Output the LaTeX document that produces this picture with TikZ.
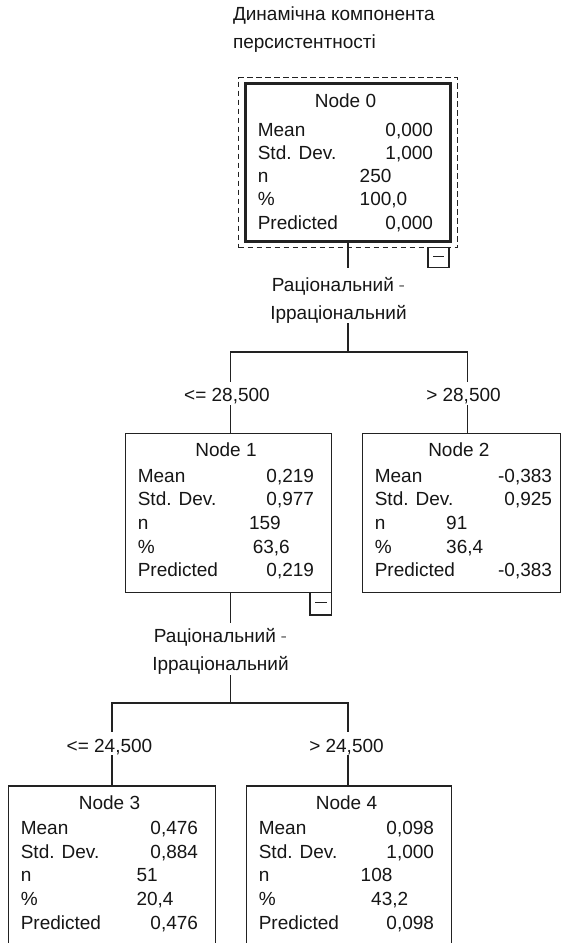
\documentclass[tikz,border=0pt]{standalone}
\usepackage{fontspec}
\setmainfont{Liberation Sans}
\usetikzlibrary{calc}
\definecolor{ink}{HTML}{161616}
\definecolor{edge}{HTML}{222222}
\definecolor{dashgray}{HTML}{707070}
\tikzset{
  txt/.style={inner sep=0pt, outer sep=0pt, text=ink, font=\fontsize{19}{22}\selectfont},
  box/.style={draw=edge, line width=1.3pt, outer sep=0pt, inner sep=0pt},
  thickbox/.style={box, line width=3pt},
  focusbox/.style={draw=edge, line width=1.2pt, dash pattern=on 5.5pt off 3.5pt, outer sep=0pt, inner sep=0pt},
  minusbox/.style={draw=edge, line width=1.3pt, outer sep=0pt, inner sep=0pt, fill=white,
    path picture={\draw[edge, line width=1.2pt] ([xshift=5pt,yshift=1pt]path picture bounding box.west) -- ([xshift=-5pt,yshift=1pt]path picture bounding box.east);}},
  conn/.style={draw=edge, line width=1.3pt},
  cutlabel/.style={txt, fill=white, text height=19.7pt, text depth=3.3pt, anchor=base},
  splitlabel/.style={txt, fill=white, align=center, anchor=south, font=\fontsize{19}{27.6}\selectfont},
}
\def\tnHy{23}
\def\tnRy{48.5}
\def\tnRs{23.7}
\def\tnVr{17.5}
\def\tnLx{12.3}
\newcommand{\tnstats}[9]{%
  \node[txt,anchor=base] (#1-h) at ($(#1.north)+(-2.5,\tnHy)$) {#2};
  \node[txt,anchor=base west] (#1-a) at ($(#1.north west)+(\tnLx,\tnRy)$) {Mean};
  \node[txt,anchor=base east] (#1-av) at ($(#1.north east)+(-\tnVr,\tnRy)$) {#3};
  \node[txt,anchor=base west] (#1-b) at ($(#1.north west)+(\tnLx,{\tnRy+\tnRs})$) {Std. Dev.};
  \node[txt,anchor=base east] (#1-bv) at ($(#1.north east)+(-\tnVr,{\tnRy+\tnRs})$) {#4};
  \node[txt,anchor=base west] (#1-c) at ($(#1.north west)+(\tnLx,{\tnRy+2*\tnRs})$) {n};
  \node[txt,anchor=base west] (#1-cv) at ($(#1.north west)+(#6,{\tnRy+2*\tnRs})$) {#5};
  \node[txt,anchor=base west] (#1-d) at ($(#1.north west)+(\tnLx,{\tnRy+3*\tnRs})$) {\%};
  \node[txt,anchor=base west] (#1-dv) at ($(#1.north west)+(#8,{\tnRy+3*\tnRs})$) {#7};
  \node[txt,anchor=base west] (#1-e) at ($(#1.north west)+(\tnLx,{\tnRy+4*\tnRs})$) {Predicted};
  \node[txt,anchor=base east] (#1-ev) at ($(#1.north east)+(-\tnVr,{\tnRy+4*\tnRs})$) {#9};
}
\newcommand{\splitdash}{\hspace{0.25em}\textcolor{dashgray}{-}}
\begin{document}
\begin{tikzpicture}[x=1pt, y=-1pt]
  \useasboundingbox (0,0) rectangle (561,943);
  \fill[white] (0,0) rectangle (561,943);
  \clip (0,0) rectangle (561,943);

  % title
  \node[txt, anchor=north west, align=left, font=\fontsize{19}{27.6}\selectfont] (title) at (233,7.1)
    {Динамічна компонента\\персистентності};

  % boxes
  \node[focusbox, minimum width=219pt, minimum height=170pt] (n0f) at (348,162.5) {};
  \node[thickbox, minimum width=205pt, minimum height=158pt] (n0) at (348,162.5) {};
  \node[minusbox, minimum width=21pt, minimum height=20pt] (m0) at (438.5,257.5) {};

  \node[box, minimum width=206pt, minimum height=159pt] (n1) at (228.5,513) {};
  \node[box, minimum width=197.8pt, minimum height=159pt] (n2) at (461.4,513) {};
  \node[box, minimum width=207pt, minimum height=174pt] (n3) at (112,873) {};
  \node[box, minimum width=205pt, minimum height=174pt] (n4) at (349,873) {};

  % connectors
  \coordinate (b0) at (0,352);
  \coordinate (b1) at (0,703);
  \coordinate (n1t) at ([xshift=2.2pt]n1.north);
  \coordinate (n1b) at ([xshift=2.2pt]n1.south);
  \coordinate (n2t) at ([xshift=5.9pt]n2.north);
  \coordinate (n4t) at ([xshift=-1pt]n4.north);

  \draw[conn] (n0.south) -- (n0.south |- b0);
  \draw[conn] (n1t) -- (n1t |- b0) -- (n2t |- b0) -- (n2t);
  \draw[conn] (n1b) -- (n1b |- b1);
  \draw[conn] (n3.north) -- (n3.north |- b1) -- (n4t |- b1) -- (n4t);

  \node[minusbox, minimum width=21.5pt, minimum height=22.5pt] (m1) at (320.75,603.75) {};

  % split labels
  \node[splitlabel] (s0) at (338.5,323) {\rule{0pt}{23.7pt}Раціональний\splitdash\\Ірраціональний};
  \node[splitlabel, font=\fontsize{19}{28}\selectfont] (s1) at (220.5,674.7) {\rule{0pt}{19.7pt}Раціональний\splitdash\\Ірраціональний};

  \node[cutlabel] (c1) at (227,401.7) {<= 28,500};
  \node[cutlabel] (c2) at (463.5,401.7) {> 28,500};
  \node[cutlabel, text height=20.7pt, text depth=2.3pt] (c3) at (109.5,752.7) {<= 24,500};
  \node[cutlabel, text height=20.7pt, text depth=2.3pt] (c4) at (346.5,752.7) {> 24,500};

  % node contents
  {\def\tnHy{23.5}\def\tnRy{52.5}\def\tnRs{23.3}
   \tnstats{n0}{Node 0}{0,000}{1,000}{250}{114.2}{100,0}{114.2}{0,000}}
  \tnstats{n1}{Node 1}{0,219}{0,977}{159}{123.5}{63,6}{127.3}{0,219}
  {\def\tnVr{8.3}
   \tnstats{n2}{Node 2}{-0,383}{0,925}{91}{83.7}{36,4}{83.7}{-0,383}}
  \tnstats{n3}{Node 3}{0,476}{0,884}{51}{128}{20,4}{128}{0,476}
  \tnstats{n4}{Node 4}{0,098}{1,000}{108}{114.2}{43,2}{124.7}{0,098}
\end{tikzpicture}
\end{document}
